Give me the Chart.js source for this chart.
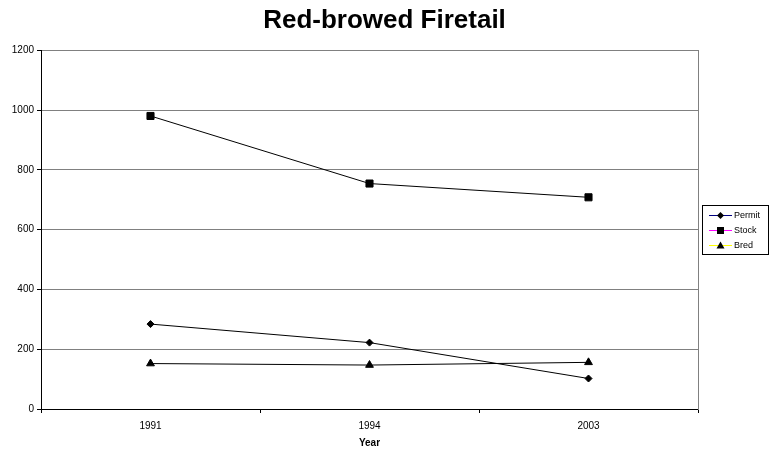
<!DOCTYPE html>
<html>
<head>
<meta charset="utf-8">
<script src="https://cdn.jsdelivr.net/npm/chart.js@4"></script>
<style>
  body { margin: 0; background: #fff; }
  #wrap { width: 769px; height: 450px; }
</style>
</head>
<body>
<div id="wrap"><canvas id="chart" width="769" height="450"></canvas></div>
<script>
// data
const years = ['1991', '1994', '2003'];
const permit = [284, 222, 102];
const stock = [980, 754, 708];
const bred = [152, 147, 156];

const FONT = "'Liberation Sans', Arial, sans-serif";

// legend on the right: coloured line, black marker (like the old Excel chart)
const sideLegend = {
    id: 'sideLegend',
    afterDraw(chart) {
        const ctx = chart.ctx;
        const items = chart.data.datasets;
        ctx.save();
        ctx.strokeStyle = '#000';
        ctx.lineWidth = 1;
        ctx.strokeRect(702.5, 205.5, 66, 49);

        items.forEach((ds, i) => {
            const y = 215 + i * 15;
            ctx.strokeStyle = ds.legendColor;
            ctx.lineWidth = 1;
            ctx.beginPath();
            ctx.moveTo(709, y + 0.5);
            ctx.lineTo(732, y + 0.5);
            ctx.stroke();

            // marker
            ctx.fillStyle = '#000';
            ctx.beginPath();
            const cx = 720.5, cy = y + 0.5;
            if (ds.pointStyle === 'rectRot') {
                ctx.moveTo(cx, cy - 3.5);
                ctx.lineTo(cx + 3.5, cy);
                ctx.lineTo(cx, cy + 3.5);
                ctx.lineTo(cx - 3.5, cy);
            } else if (ds.pointStyle === 'rect') {
                ctx.rect(cx - 3.5, cy - 3.5, 7, 7);
            } else {
                ctx.moveTo(cx, cy - 4);
                ctx.lineTo(cx + 4, cy + 3);
                ctx.lineTo(cx - 4, cy + 3);
            }
            ctx.closePath();
            ctx.fill();

            ctx.fillStyle = '#000';
            ctx.font = '9px ' + FONT;
            ctx.textAlign = 'left';
            ctx.textBaseline = 'middle';
            ctx.fillText(ds.label, 734, y + 0.5);
        });
        ctx.restore();
    }
};

const lineDefaults = {
    borderColor: '#000',
    backgroundColor: '#000',
    borderWidth: 1,
    pointBorderWidth: 1,
    pointBackgroundColor: '#000',
    pointBorderColor: '#000',
    tension: 0
};

new Chart(document.getElementById('chart'), {
    type: 'line',
    data: {
        labels: years,
        datasets: [
            { ...lineDefaults, label: 'Permit', data: permit, pointStyle: 'rectRot', pointRadius: 3.5, legendColor: '#000080' },
            { ...lineDefaults, label: 'Stock', data: stock, pointStyle: 'rect', pointRadius: 5, legendColor: '#ff00ff' },
            { ...lineDefaults, label: 'Bred', data: bred, pointStyle: 'triangle', pointRadius: 4.5, legendColor: '#ffff00' }
        ]
    },
    options: {
        responsive: false,
        animation: false,
        devicePixelRatio: 1,
        layout: { padding: 0 },
        plugins: {
            legend: { display: false },
            tooltip: { enabled: false },
            title: {
                display: true,
                text: 'Red-browed Firetail',
                color: '#000',
                font: { family: FONT, size: 26, weight: 'bold' },
                padding: { top: 5, bottom: 14 }
            }
        },
        scales: {
            x: {
                offset: true,
                grid: {
                    display: true,
                    drawOnChartArea: false,
                    offset: true,
                    tickLength: 4,
                    tickColor: '#000'
                },
                border: { color: '#000' },
                ticks: {
                    color: '#000',
                    padding: 7,
                    maxRotation: 0,
                    font: { family: FONT, size: 10 }
                },
                title: {
                    display: true,
                    text: 'Year',
                    color: '#000',
                    font: { family: FONT, size: 10, weight: 'bold' },
                    padding: { top: 0, bottom: 1 }
                },
                afterFit(scale) { scale.height = 41; }
            },
            y: {
                min: 0,
                max: 1200,
                ticks: {
                    stepSize: 200,
                    color: '#000',
                    padding: 3,
                    font: { family: FONT, size: 10 },
                    callback: function(value) {
                        return String(value);
                    }
                },
                grid: {
                    color: '#808080',
                    tickColor: '#000',
                    tickLength: 4
                },
                border: { color: '#000' },
                afterFit(scale) { scale.width = 41; }
            },
            // empty right axis: gives the plot its grey right edge and leaves room for the legend
            yRight: {
                type: 'linear',
                position: 'right',
                display: true,
                min: 0,
                max: 1200,
                ticks: { display: false },
                grid: { display: false, drawOnChartArea: false },
                border: { display: true, color: '#808080' },
                afterFit(scale) { scale.width = 71; }
            }
        }
    },
    plugins: [sideLegend]
});
</script>
</body>
</html>
